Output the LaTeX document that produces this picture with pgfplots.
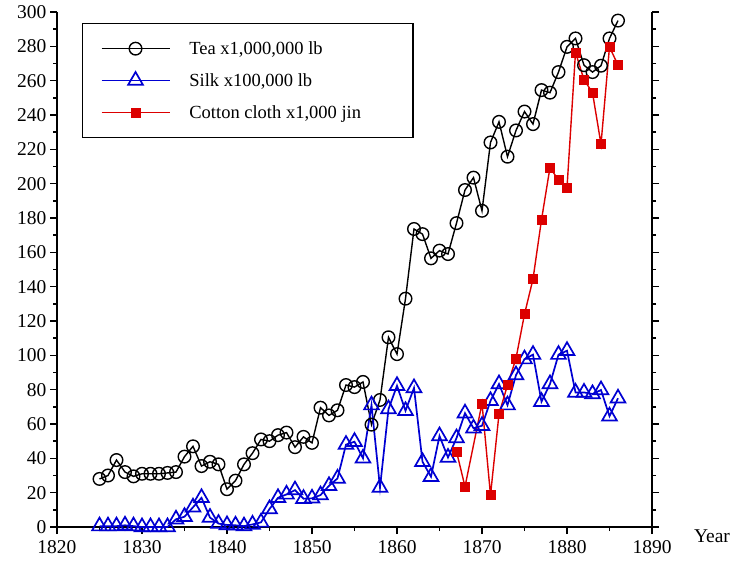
\documentclass[border=0pt]{standalone}
\usepackage{fontspec}
\setmainfont{Liberation Serif}
\usepackage{pgfplots}
\pgfplotsset{compat=1.18}
\definecolor{silkBlue}{RGB}{0,0,210}
\definecolor{cottonRed}{RGB}{220,0,0}
\begin{document}
\begin{tikzpicture}
\begin{axis}[
 scale only axis, width=595pt, height=515pt,
 xmin=1820, xmax=1890, ymin=0, ymax=300,
 axis x line*=bottom, axis y line*=box,
 axis line style={line width=1.4pt, -},
 xtick={1820,1830,...,1890}, minor x tick num=1,
 ytick={0,20,...,300}, minor y tick num=1,
 xtick pos=left, ytick pos=both,
 tick align=outside,
 major tick length=7pt, minor tick length=4pt,
 every tick/.style={line width=1.4pt, black},
 tick label style={font=\fontsize{19.5}{22}\selectfont},
 x tick label style={yshift=-3pt},
 /pgf/number format/assume math mode=true,
 /pgf/number format/1000 sep={},
 clip=false,
 legend cell align=left,
 legend image code/.code={\draw[mark repeat=2,mark phase=2,#1] plot coordinates {(0pt,0pt) (34pt,0pt) (68pt,0pt)};},
 legend style={at={(0.042,0.979)}, anchor=north west, draw=black, line width=1.4pt,
   font=\fontsize{18.5}{22}\selectfont, inner xsep=18pt, inner ysep=15pt, row sep=11.5pt, column sep=16pt,
   nodes={inner sep=3pt}},
]
\addplot[black, line width=1.4pt, mark=o, mark size=6.3pt, mark options={fill=white, line width=1.4pt}] table {
1825 28
1826 30
1827 39
1828 32
1829 29.5
1830 31
1831 31
1832 31
1833 31.5
1834 32
1835 41
1836 47
1837 35.5
1838 38
1839 36.5
1840 22
1841 27
1842 36.5
1843 43
1844 51
1845 50
1846 53.5
1847 55
1848 46.5
1849 52.5
1850 49
1851 69.5
1852 65
1853 68
1854 82.7
1855 81.5
1856 84.5
1857 59.6
1858 74
1859 110.5
1860 100.7
1861 133
1862 173.6
1863 170.6
1864 156.5
1865 161
1866 159
1867 177
1868 196.3
1869 203.5
1870 184.2
1871 224
1872 236
1873 215.7
1874 231
1875 242
1876 234.7
1877 254.5
1878 253
1879 265
1880 279.7
1881 284.6
1882 269
1883 265
1884 268.7
1885 284.6
1886 295
};
\addlegendentry{Tea x1,000,000 lb}
\addplot[silkBlue, line width=1.7pt, mark=triangle, mark size=8.5pt, mark options={fill=white, line width=1.7pt}] table {
1825 0.5
1826 0.5
1827 0.5
1828 1
1829 0.5
1830 0
1831 0
1832 0
1833 0
1834 4.5
1835 6
1836 11.5
1837 17
1838 5.5
1839 2
1840 1.2
1841 1
1842 0.5
1843 1.5
1844 2.7
1845 10.5
1846 17
1847 19
1848 21.5
1849 16.5
1850 16.7
1851 18.6
1852 24
1853 28.3
1854 48
1855 49.7
1856 40
1857 71
1858 23
1859 68.7
1860 82.3
1861 67.7
1862 81
1863 38
1864 29.3
1865 53
1866 40.5
1867 51.8
1868 66.3
1869 57.5
1870 59
1871 73.5
1872 83.3
1873 71
1874 88.5
1875 97.8
1876 100.4
1877 73
1878 83.3
1879 100.4
1880 102.7
1881 78.4
1882 78.4
1883 77.5
1884 79.8
1885 64.5
1886 75
};
\addlegendentry{Silk x100,000 lb}
\addplot[cottonRed, line width=1.4pt, mark=square*, mark size=4.5pt, mark options={line width=0.5pt}] table {
1867 44
1868 23.5
1870 72
1871 18.6
1872 65.8
1873 82.7
1874 98.2
1875 124
1876 144.4
1877 179
1878 209.5
1879 202
1880 197.6
1881 276.5
1882 260.5
1883 253
1884 223
1885 279.7
1886 269
};
\addlegendentry{Cotton cloth x1,000 jin\kern31pt}
\node[font=\fontsize{19.5}{22}\selectfont] at ([xshift=60pt,yshift=-9pt]rel axis cs:1,0) {Year};
\path ([xshift=-57pt,yshift=-39pt]rel axis cs:0,0) rectangle ([xshift=82pt,yshift=12pt]rel axis cs:1,1);
\end{axis}
\end{tikzpicture}
\end{document}
